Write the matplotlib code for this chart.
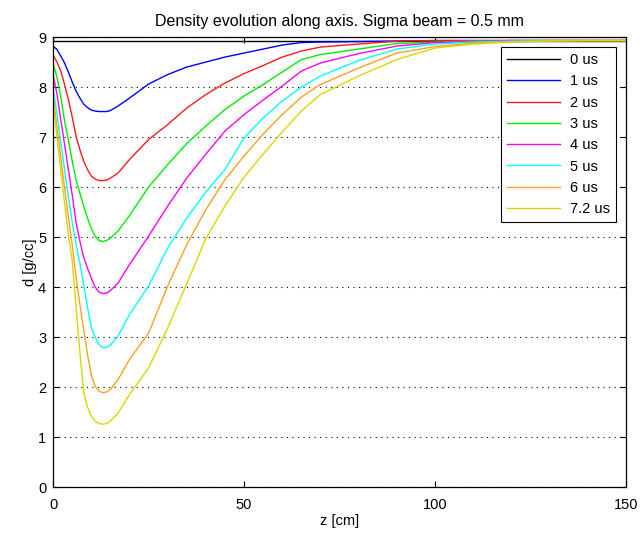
import numpy as np
import matplotlib
matplotlib.use('Agg')
import matplotlib.pyplot as plt

plt.rcParams['font.family'] = ['Liberation Sans', 'DejaVu Sans']

# axial position [cm]
z = [0, 1, 2, 3, 4, 5, 6, 7, 8, 9, 10, 11, 12, 13, 14, 15, 17, 20, 25, 30,
     35, 40, 45, 50, 55, 60, 65, 70, 80, 90, 100, 110, 120, 130, 140, 150]

# density [g/cc] at each time
d_0us = [8.93] * len(z)
d_1us = [8.82, 8.75, 8.62, 8.48, 8.30, 8.10, 7.92, 7.78, 7.66, 7.59, 7.54, 7.52, 7.51, 7.51, 7.51, 7.53, 7.62, 7.78, 8.06, 8.25,
         8.40, 8.50, 8.60, 8.68, 8.76, 8.84, 8.89, 8.90, 8.91, 8.92, 8.93, 8.93, 8.93, 8.93, 8.93, 8.93]
d_2us = [8.64, 8.50, 8.32, 8.05, 7.75, 7.40, 7.02, 6.75, 6.52, 6.35, 6.22, 6.16, 6.13, 6.13, 6.14, 6.18, 6.28, 6.55, 6.95, 7.25,
         7.58, 7.85, 8.08, 8.27, 8.43, 8.60, 8.72, 8.80, 8.86, 8.92, 8.93, 8.93, 8.93, 8.93, 8.93, 8.93]
d_3us = [8.47, 8.20, 7.82, 7.32, 6.94, 6.52, 6.15, 5.88, 5.62, 5.38, 5.17, 5.02, 4.93, 4.91, 4.93, 4.98, 5.12, 5.43, 6.00, 6.45,
         6.87, 7.22, 7.55, 7.82, 8.05, 8.30, 8.55, 8.65, 8.76, 8.87, 8.90, 8.92, 8.93, 8.93, 8.93, 8.93]
d_4us = [8.24, 7.87, 7.35, 6.85, 6.35, 5.84, 5.30, 4.92, 4.60, 4.38, 4.18, 4.00, 3.90, 3.87, 3.88, 3.93, 4.08, 4.45, 5.02, 5.62,
         6.18, 6.66, 7.12, 7.45, 7.74, 8.02, 8.32, 8.48, 8.67, 8.82, 8.89, 8.91, 8.93, 8.93, 8.93, 8.93]
d_5us = [7.97, 7.47, 6.90, 6.35, 5.80, 5.30, 4.85, 4.48, 4.05, 3.60, 3.20, 3.00, 2.85, 2.79, 2.79, 2.84, 3.02, 3.45, 4.02, 4.78,
         5.38, 5.90, 6.35, 6.98, 7.38, 7.72, 8.00, 8.22, 8.53, 8.76, 8.86, 8.90, 8.92, 8.93, 8.93, 8.93]
d_6us = [7.84, 7.20, 6.60, 5.98, 5.40, 4.85, 4.20, 3.66, 3.15, 2.65, 2.24, 2.02, 1.92, 1.89, 1.90, 1.95, 2.15, 2.55, 3.08, 4.02,
         4.85, 5.55, 6.15, 6.62, 7.06, 7.45, 7.80, 8.05, 8.38, 8.68, 8.81, 8.88, 8.91, 8.92, 8.93, 8.93]
d_72us = [7.72, 7.00, 6.35, 5.67, 5.05, 4.52, 3.62, 2.70, 1.90, 1.60, 1.42, 1.32, 1.27, 1.26, 1.27, 1.32, 1.48, 1.85, 2.38, 3.18,
          4.07, 4.97, 5.62, 6.20, 6.66, 7.10, 7.52, 7.85, 8.22, 8.55, 8.78, 8.86, 8.90, 8.92, 8.93, 8.93]

labels = ["0 us", "1 us", "2 us", "3 us", "4 us", "5 us", "6 us", "7.2 us"]
series = [d_0us, d_1us, d_2us, d_3us, d_4us, d_5us, d_6us, d_72us]
colors = ['#000000', '#0000ff', '#ff1a1a', '#00ee00', '#ff00ff', '#00ffff', '#ffa020', '#d8d800']

fig = plt.figure(figsize=(6.4, 5.37), dpi=100)
ax = fig.add_axes([0.083, 0.093, 0.895, 0.838])

for d, lab, c in zip(series, labels, colors):
    ax.plot(z, d, color=c, linewidth=1.0, label=lab)

ax.set_xlim(0, 150)
ax.set_ylim(0, 9)
ax.set_xticks([0, 50, 100, 150])
ax.set_yticks(range(0, 10))
ax.yaxis.grid(True, color='black', linestyle=(0, (1, 4)), linewidth=0.8)
ax.set_axisbelow(True)
ax.tick_params(direction='in', top=True, right=True, labelsize=10.5, length=4)
ax.tick_params(axis='x', pad=8)
ax.tick_params(axis='y', pad=5)
for s in ax.spines.values():
    s.set_linewidth(0.9)

ax.set_title("Density evolution along axis. Sigma beam = 0.5 mm", fontsize=11.5, pad=8)
ax.set_xlabel("z [cm]", fontsize=10.5, labelpad=1)
ax.set_ylabel("d [g/cc]", fontsize=10.5, labelpad=1)

leg = ax.legend(loc='upper right', fontsize=10.5, handlelength=3.6, labelspacing=0.5,
                handletextpad=0.7, fancybox=False, framealpha=1, edgecolor='black',
                borderaxespad=0.7)
leg.get_frame().set_linewidth(0.8)

plt.savefig("out.png", dpi=100)
plt.close()
